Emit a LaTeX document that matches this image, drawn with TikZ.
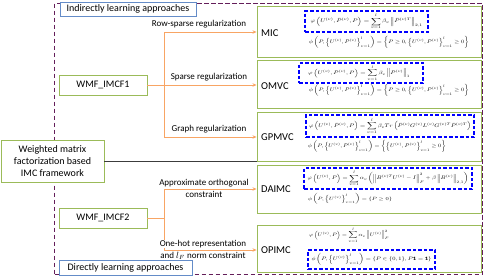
\documentclass[tikz,border=0pt]{standalone}
\usepackage{amsmath,amssymb}
\usepackage{graphicx}
\usepackage{fontspec}
\setmainfont{Carlito}
\usetikzlibrary{arrows.meta}
\definecolor{greenB}{RGB}{155,187,89}
\definecolor{blueT}{RGB}{100,140,200}
\definecolor{orangeL}{RGB}{248,165,100}
\definecolor{purp}{RGB}{100,30,90}
\definecolor{fblue}{RGB}{0,0,255}
\definecolor{darkline}{RGB}{60,60,60}
\newcommand{\fml}[3]{\resizebox*{#1pt}{#2pt}{$\displaystyle #3$}}
\begin{document}
\begin{tikzpicture}[x=1pt,y=-1pt,
  titlebox/.style={draw=blueT,fill=white,line width=0.8pt,inner sep=0pt,font=\fontsize{10}{11}\selectfont},
  gbox/.style={draw=greenB,fill=white,line width=0.9pt,inner sep=0pt,font=\fontsize{10}{11.7}\selectfont,align=center},
  mbox/.style={draw=greenB,line width=0.9pt,inner sep=0pt},
  mlab/.style={anchor=west,inner sep=0pt,font=\fontsize{10.5}{12}\selectfont},
  fbox/.style={draw=fblue,dash pattern=on 3.5pt off 2pt,line width=1.2pt,inner sep=0pt},
  fplain/.style={inner sep=0pt},
  orl/.style={draw=orangeL,line width=0.8pt},
  orarrow/.style={orl,-{Stealth[length=4pt,width=3.5pt]}},
  elab/.style={inner sep=0.5pt,fill=white,font=\fontsize{9}{10}\selectfont},
  purpbox/.style={draw=purp,dash pattern=on 4.5pt off 2.5pt,line width=1pt,inner sep=0pt}
]
\useasboundingbox (0,0) rectangle (484,277);
% outer dashed frame
\node[purpbox,minimum width=428,minimum height=271,anchor=north west] (frame) at (54,3) {};

% method boxes
\node[mbox,minimum width=224,minimum height=51] (micbox) at (369,31.5) {};
\node[mbox,minimum width=224,minimum height=48] (omvcbox) at (369,84) {};
\node[mbox,minimum width=224,minimum height=49] (gpmvcbox) at (369,136.5) {};
\node[mbox,minimum width=224,minimum height=48] (daimcbox) at (369,189) {};
\node[mbox,minimum width=224,minimum height=47] (opimcbox) at (369,248.5) {};

\node[mlab] (mic) at (261,33) {MIC};
\node[mlab] (omvc) at (261,86) {OMVC};
\node[mlab] (gpmvc) at (261,137) {GPMVC};
\node[mlab] (daimc) at (261,189) {DAIMC};
\node[mlab] (opimc) at (261,250) {OPIMC};

% dashed formula frames
\node[fbox,minimum width=123,minimum height=21] (micfr) at (366.5,21.5) {};
\node[fbox,minimum width=124,minimum height=20] (omvcfr) at (361,73) {};
\node[fbox,minimum width=168,minimum height=22] (gpmvcfr) at (390,126) {};
\node[fbox,minimum width=168,minimum height=21] (daimcfr) at (388,178.5) {};
\node[fbox,minimum width=127,minimum height=19] (opimcfr) at (371.5,259.5) {};

% formulas
\node[fplain] (micf1) at (micfr.center)
  {\fml{112}{16}{\varphi\left(U^{(v)},\bar{P}^{(v)},P\right)=\sum_{v=1}^{l}\beta_v\left\|\bar{P}^{(v)T}\right\|_{2,1}}};
\node[fplain] (micf2) at (389,42.5)
  {\fml{160}{12}{\phi\left(P,\left\{U^{(v)},\bar{P}^{(v)}\right\}_{v=1}^{l}\right)=\left\{P\geq 0,\left\{U^{(v)},\bar{P}^{(v)}\right\}_{v=1}^{l}\geq 0\right\}}};

\node[fplain] (omvcf1) at (359,73)
  {\fml{102}{15}{\varphi\left(U^{(v)},\bar{P}^{(v)},P\right)=\sum_{v=1}^{l}\beta_v\left\|\bar{P}^{(v)}\right\|_{1}}};
\node[fplain] (omvcf2) at (389,90.5)
  {\fml{160}{12}{\phi\left(P,\left\{U^{(v)},\bar{P}^{(v)}\right\}_{v=1}^{l}\right)=\left\{P\geq 0,\left\{U^{(v)},\bar{P}^{(v)}\right\}_{v=1}^{l}\geq 0\right\}}};

\node[fplain] (gpmvcf1) at (gpmvcfr.center)
  {\fml{162}{16}{\varphi\left(U^{(v)},\bar{P}^{(v)},P\right)=\sum_{v=1}^{l}\beta_v Tr\left(\bar{P}^{(v)}G^{(v)}L^{(v)}G^{(v)T}\bar{P}^{(v)T}\right)}};
\node[fplain] (gpmvcf2) at (377,146.5)
  {\fml{138}{12}{\phi\left(P,\left\{U^{(v)},\bar{P}^{(v)}\right\}_{v=1}^{l}\right)=\left\{\left\{U^{(v)},\bar{P}^{(v)}\right\}_{v=1}^{l}\geq 0\right\}}};

\node[fplain] (daimcf1) at (daimcfr.center)
  {\fml{161}{16}{\varphi\left(U^{(v)},P\right)=\sum_{v=1}^{l}\alpha_v\left(\left\|B^{(v)T}U^{(v)}-I\right\|_F^2+\beta\left\|B^{(v)}\right\|_{2,1}\right)}};
\node[fplain] (daimcf2) at (350,199)
  {\fml{84}{11}{\phi\left(P,\left\{U^{(v)}\right\}_{v=1}^{l}\right)=\left\{P\geq 0\right\}}};

\node[fplain] (opimcf1) at (349,235)
  {\fml{80}{15}{\varphi\left(U^{(v)},P\right)=\sum_{v=1}^{l}\alpha_v\left\|U^{(v)}\right\|_F^2}};
\node[fplain] (opimcf2) at (opimcfr.center)
  {\fml{120}{12}{\phi\left(P,\left\{U^{(v)}\right\}_{v=1}^{l}\right)=\left\{P\in\{0,1\},P\mathbf{1}=\mathbf{1}\right\}}};

% left nodes
\node[gbox,minimum width=103,minimum height=42] (wmf) at (52.5,161)
  {Weighted matrix\\factorization based\\IMC framework};
\node[gbox,minimum width=88,minimum height=20] (wmf1) at (103,85) {WMF\_IMCF1};
\node[gbox,minimum width=88,minimum height=20] (wmf2) at (103,218) {WMF\_IMCF2};

\node[titlebox,minimum width=136,minimum height=14] (indirect) at (128,9) {Indirectly learning approaches};
\node[titlebox,minimum width=133,minimum height=15] (direct) at (125.5,267.5) {Directly learning approaches};

% black line
\draw[darkline,line width=0.9pt] (wmf.east) -- (wmf.east -| gpmvcbox.west);

% tree 1
\coordinate (t1) at (164,32);
\coordinate (m1) at (164,85);
\coordinate (b1) at (164,137);
\draw[orl] (wmf1.east) -- (m1);
\draw[orl] (t1) -- (b1);
\draw[orarrow] (t1) -- (t1 -| micbox.west);
\draw[orarrow] (m1) -- (m1 -| omvcbox.west);
\draw[orarrow] (b1) -- (b1 -| gpmvcbox.west);
\node[elab] (l1) at (199,24) {Row-sparse regularization};
\node[elab] (l2) at (209,77) {Sparse regularization};
\node[elab] (l3) at (209,129) {Graph regularization};

% tree 2
\coordinate (t2) at (164,189);
\coordinate (m2) at (164,218);
\coordinate (b2) at (164,250);
\draw[orl] (wmf2.east) -- (m2);
\draw[orl] (t2) -- (b2);
\draw[orarrow] (t2) -- (t2 -| daimcbox.west);
\draw[orarrow] (b2) -- (b2 -| opimcbox.west);
\node[elab] (l4a) at (204,183) {Approximate orthogonal};
\node[elab] (l4b) at (204,194.5) {constraint};
\node[elab] (l5a) at (203,244) {One-hot representation};
\node[elab] (l5b) at (203,255.5) {and $l_F$ norm constraint};
\end{tikzpicture}
\end{document}
